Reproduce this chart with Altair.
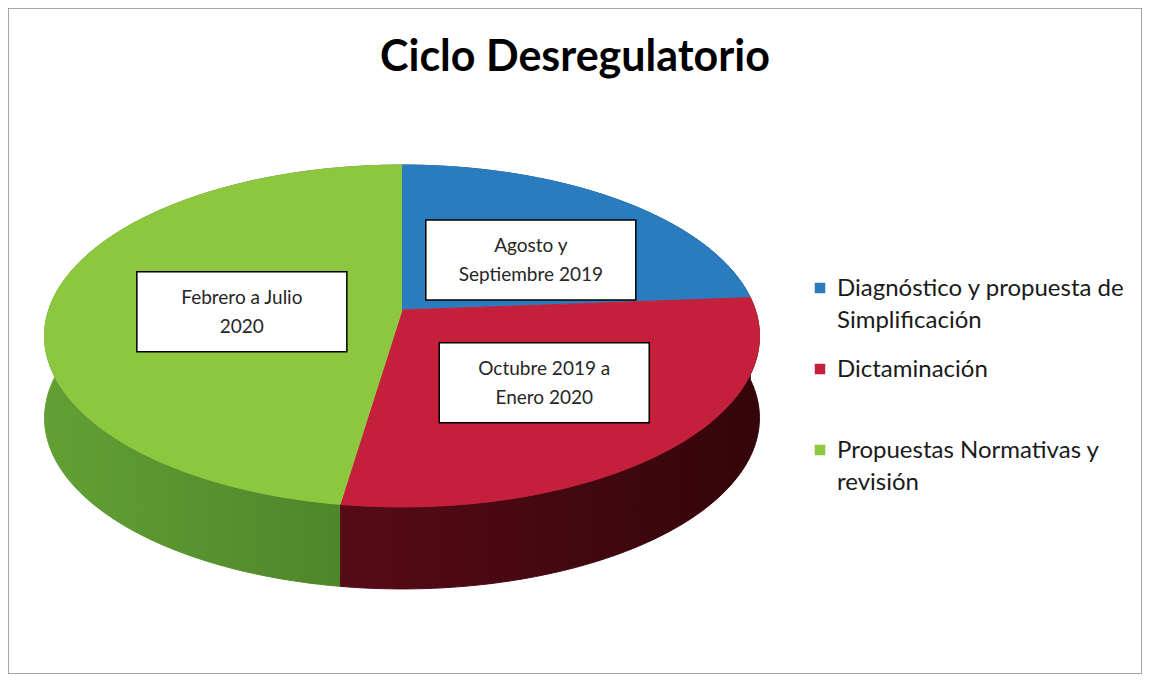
import altair as alt
import pandas as pd

# ---------------- data ----------------
categories = [
    "Diagnóstico y propuesta de Simplificación",
    "Dictaminación",
    "Propuestas Normativas y revisión",
]
values = [5, 6, 10]
period_labels = [
    "Agosto y\nSeptiembre 2019",
    "Octubre  2019 a\nEnero 2020",
    "Febrero a Julio\n2020",
]
legend_labels = [
    "Diagnóstico y propuesta de\nSimplificación",
    "Dictaminación",
    "Propuestas Normativas y\nrevisión",
]

# ---------------- styles ----------------
top_colors = ["#2b7cbf", "#c41f3b", "#8dc740"]
side_stops = [("#1f5f96", "#174a75"), ("#560b16", "#34050a"), ("#62a033", "#4b8029")]
FONT = "Lato"

# ---------------- geometry (pixel space of the plot area) ----------------
W, H = 1134, 666
M = 8
CX, CY = 402 - M, 310 - M      # projected pie centre
A, B, K = 353.3, 167.0, 0.152  # perspective ellipse parameters
DEPTH = 82
N = 120
S = 2 * (N + 1)
LABEL_R = 0.5
LABEL_DX, LABEL_DY = 15, 8

df = pd.DataFrame({
    "idx": list(range(len(categories))),
    "category": categories,
    "value": values,
    "period": period_labels,
    "legend": legend_labels,
})

xs = alt.Scale(domain=[0, W], nice=False, zero=False)
ys = alt.Scale(domain=[0, H], nice=False, zero=False, reverse=True)
cscale = alt.Scale(domain=categories, range=top_colors)

proj_x = f"{CX} + {A}*datum.u/(1+{K}*datum.v)"
proj_y = f"{CY} - {B}*datum.v/(1+{K}*datum.v)"

base = alt.Chart(df).transform_joinaggregate(
    total="sum(value)"
).transform_window(
    cum="sum(value)", sort=[alt.SortField("idx")]
).transform_calculate(
    a1="2*PI*datum.cum/datum.total",
    a0="2*PI*(datum.cum-datum.value)/datum.total",
)

# ---- side walls (one layer per slice so each gets its own shading) ----
side_layers = []
for i, (c0, c1) in enumerate(side_stops):
    grad = alt.LinearGradient(
        gradient="linear",
        stops=[alt.GradientStop(color=c0, offset=0), alt.GradientStop(color=c1, offset=1)],
        x1=0, x2=1, y1=0, y2=0,
    )
    layer = base.transform_filter(f"datum.idx == {i}").transform_calculate(
        step=f"sequence(0, {S})"
    ).transform_flatten(["step"]).transform_calculate(
        t=f"datum.step <= {N} ? datum.step/{N} : ({S - 1}-datum.step)/{N}",
        off=f"datum.step <= {N} ? 0 : {DEPTH}",
    ).transform_calculate(
        th="datum.a0 + datum.t*(datum.a1-datum.a0)",
    ).transform_calculate(
        u="sin(datum.th)", v="cos(datum.th)",
    ).transform_calculate(
        px=proj_x,
        py=f"{proj_y} + datum.off",
    ).mark_line(filled=True, fill=grad, stroke=grad, strokeWidth=1).encode(
        x=alt.X("px:Q", scale=xs, axis=None),
        y=alt.Y("py:Q", scale=ys, axis=None),
        order=alt.Order("step:Q"),
    )
    side_layers.append(layer)

# ---- top faces ----
top = base.transform_calculate(
    step=f"sequence(0, {N + 2})"
).transform_flatten(["step"]).transform_calculate(
    th=f"datum.a0 + (datum.step-1)/{N}*(datum.a1-datum.a0)",
    rr="datum.step == 0 ? 0 : 1",
).transform_calculate(
    u="datum.rr*sin(datum.th)", v="datum.rr*cos(datum.th)",
).transform_calculate(
    px=proj_x, py=proj_y,
).mark_line(filled=True, strokeWidth=1).encode(
    x=alt.X("px:Q", scale=xs, axis=None),
    y=alt.Y("py:Q", scale=ys, axis=None),
    order=alt.Order("step:Q"),
    detail="idx:N",
    color=alt.Color("category:N", scale=cscale, legend=None),
    stroke=alt.Stroke("category:N", scale=cscale, legend=None),
)

# ---- data labels (boxes) ----
lab = base.transform_calculate(
    mid="(datum.a0+datum.a1)/2",
).transform_calculate(
    u=f"{LABEL_R}*sin(datum.mid)", v=f"{LABEL_R}*cos(datum.mid)",
).transform_calculate(
    lx=f"{proj_x} + {LABEL_DX}", ly=f"{proj_y} + {LABEL_DY}",
).transform_calculate(
    bx0="datum.lx-105", bx1="datum.lx+105", by0="datum.ly-40", by1="datum.ly+40",
)

boxes = lab.mark_rect(fill="white", stroke="black", strokeWidth=1.5).encode(
    x=alt.X("bx0:Q", scale=xs, axis=None), x2="bx1:Q",
    y=alt.Y("by0:Q", scale=ys, axis=None), y2="by1:Q",
)
box_text = lab.mark_text(
    font=FONT, fontSize=19, lineBreak="\n", lineHeight=29, dy=-14,
    align="center", baseline="middle", color="#262626",
).encode(
    x=alt.X("lx:Q", scale=xs, axis=None),
    y=alt.Y("ly:Q", scale=ys, axis=None),
    text="period:N",
)

# ---- legend ----
leg = alt.Chart(df).transform_calculate(
    sx="812", sy="280 + 81*datum.idx", tx="829", ty="288 + 81*datum.idx",
)
leg_sq = leg.mark_square(size=110, opacity=1).encode(
    x=alt.X("sx:Q", scale=xs, axis=None),
    y=alt.Y("sy:Q", scale=ys, axis=None),
    color=alt.Color("category:N", scale=cscale, legend=None),
)
leg_txt = leg.mark_text(
    font=FONT, fontSize=24, lineBreak="\n", lineHeight=32,
    align="left", baseline="alphabetic", color="#1a1a1a",
).encode(
    x=alt.X("tx:Q", scale=xs, axis=None),
    y=alt.Y("ty:Q", scale=ys, axis=None),
    text="legend:N",
)

chart = alt.layer(*side_layers, top, boxes, box_text, leg_sq, leg_txt).properties(
    width=W, height=H,
    padding=0,
    autosize=alt.AutoSizeParams(type="none"),
    background="white",
    title=alt.TitleParams(
        text="Ciclo Desregulatorio", font=FONT, fontSize=43, fontWeight="bold",
        color="#000000", anchor="middle", orient="top", baseline="alphabetic",
        offset=-64, dy=42,
    ),
).configure_view(stroke="#8a8a8a", strokeWidth=1.5)

chart.save("out.html", embed_options={"renderer": "svg", "actions": False})
